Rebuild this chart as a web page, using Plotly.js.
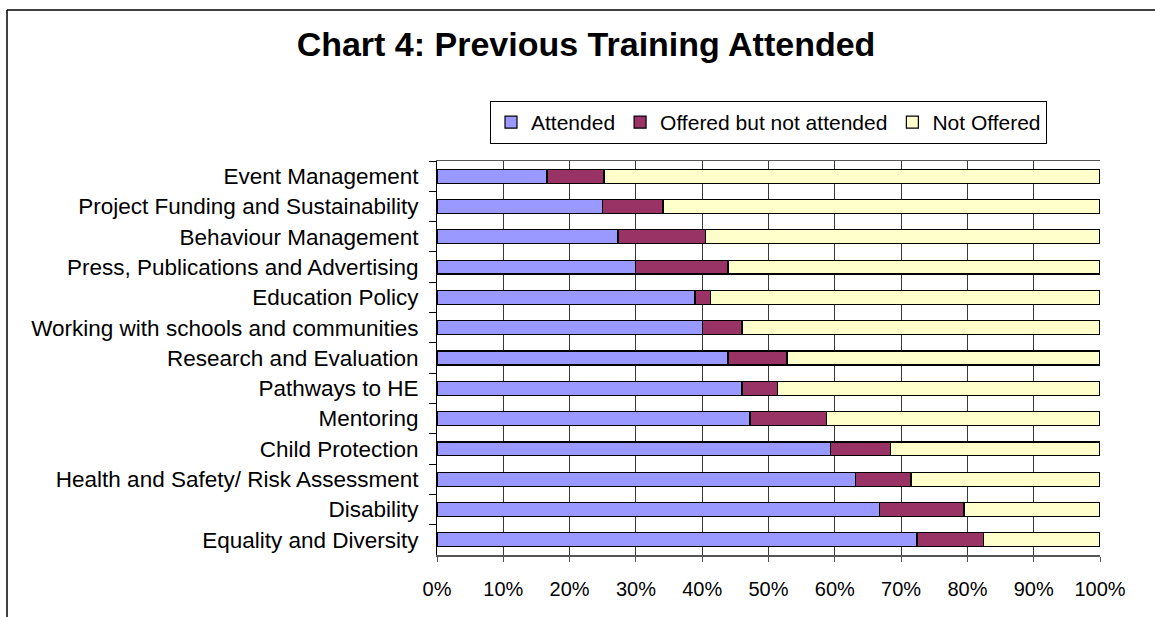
<!DOCTYPE html>
<html>
<head>
<meta charset="utf-8">
<script src="https://cdn.plot.ly/plotly-3.0.1.min.js"></script>
<style>
html,body{margin:0;padding:0;background:#fff;}
#chart{width:1155px;height:617px;}
</style>
</head>
<body>
<div id="chart"></div>
<script>
const categories = [
  "Event Management",
  "Project Funding and Sustainability",
  "Behaviour Management",
  "Press, Publications and Advertising",
  "Education Policy",
  "Working with schools and communities",
  "Research and Evaluation",
  "Pathways to HE",
  "Mentoring",
  "Child Protection",
  "Health and Safety/ Risk Assessment",
  "Disability",
  "Equality and Diversity"
];
const attended = [16.6, 25.0, 27.3, 29.9, 38.9, 40.0, 43.9, 46.0, 47.2, 59.4, 63.1, 66.8, 72.4];
const offeredNotAttended = [8.6, 9.1, 13.2, 14.0, 2.4, 6.0, 8.9, 5.4, 11.5, 9.0, 8.4, 12.7, 10.0];
const notOffered = [74.8, 65.9, 59.5, 56.1, 58.7, 54.0, 47.2, 48.6, 41.3, 31.6, 28.5, 20.5, 17.6];

const font = "Liberation Sans, Arial, sans-serif";
function series(name, vals, color) {
  return {
    type: "bar", orientation: "h", name: name,
    y: categories, x: vals.map(v => v / 100),
    marker: {color: color, line: {color: "#000000", width: 1.2}},
    width: 0.46, hoverinfo: "x+y+name"
  };
}
const data = [
  series("Attended", attended, "#9999FF"),
  series("Offered but not attended", offeredNotAttended, "#993366"),
  series("Not Offered", notOffered, "#FFFFCC")
];

// page-frame helper (paper coords relative to plot area)
const L = 437, R = 1100, T = 161, B = 555;
const px = x => (x - L) / (R - L);
const py = y => (B - y) / (B - T);

const layout = {
  width: 1155, height: 617,
  margin: {l: L, r: 1155 - R, t: T, b: 617 - B, pad: 0},
  paper_bgcolor: "#ffffff", plot_bgcolor: "#ffffff",
  barmode: "stack",
  font: {family: font, size: 22, color: "#000000"},
  title: {
    text: "<b>Chart 4: Previous Training Attended</b>",
    font: {family: font, size: 34, color: "#000000"},
    x: 586 / 1155, xref: "container", xanchor: "center",
    y: 1 - 44 / 617, yref: "container", yanchor: "middle"
  },
  legend: {
    orientation: "h",
    x: 0.5, xanchor: "center", xref: "paper",
    y: py(101), yanchor: "top", yref: "paper",
    bordercolor: "#000000", borderwidth: 1, bgcolor: "#ffffff",
    font: {family: font, size: 21, color: "#000000"},
    traceorder: "normal",
    itemwidth: 30
  },
  xaxis: {
    range: [0, 1], dtick: 0.1, tick0: 0, tickformat: ".0%",
    showgrid: true, gridcolor: "#3a3a3a", gridwidth: 1,
    showline: true, linecolor: "#555555", linewidth: 1.5, mirror: true,
    ticks: "outside", ticklen: 5, tickcolor: "#555555",
    ticklabelstandoff: 10,
    zeroline: false, fixedrange: true,
    tickfont: {family: font, size: 20, color: "#000000"}
  },
  yaxis: {
    type: "category", autorange: "reversed",
    showgrid: false, showline: true, linecolor: "#000000", linewidth: 1,
    ticks: "outside", tickson: "boundaries", ticklen: 7, tickcolor: "#000000",
    ticklabelstandoff: 13,
    tickfont: {family: font, size: 22.5, color: "#000000"},
    fixedrange: true
  },
  shapes: [
    {type: "line", xref: "paper", yref: "paper", x0: px(7), x1: px(1160), y0: py(10), y1: py(10),
     line: {color: "#000000", width: 1.5}},
    {type: "line", xref: "paper", yref: "paper", x0: px(7), x1: px(7), y0: py(10), y1: py(630),
     line: {color: "#000000", width: 1.5}}
  ],
  showlegend: true
};

Plotly.newPlot("chart", data, layout, {displayModeBar: false, staticPlot: true});
</script>
</body>
</html>
